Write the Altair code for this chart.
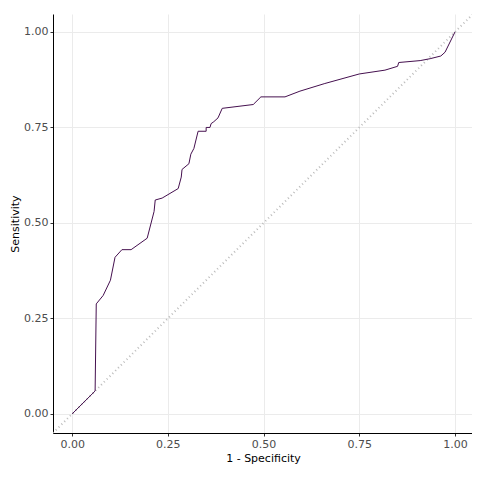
import altair as alt
import pandas as pd

fpr = [0, 0.06, 0.063, 0.081, 0.1, 0.112, 0.13, 0.154, 0.196, 0.214, 0.217, 0.235, 0.277, 0.285, 0.287,
       0.305, 0.31, 0.318, 0.329, 0.35, 0.35, 0.36, 0.363, 0.37, 0.381, 0.392, 0.473, 0.493, 0.556,
       0.595, 0.66, 0.75, 0.817, 0.85, 0.853, 0.909, 0.935, 0.963, 0.974, 1.0]
tpr = [0, 0.06, 0.288, 0.31, 0.35, 0.41, 0.43, 0.43, 0.46, 0.53, 0.56, 0.565, 0.59, 0.62, 0.64,
       0.655, 0.68, 0.695, 0.74, 0.74, 0.75, 0.75, 0.76, 0.765, 0.775, 0.80, 0.81, 0.83, 0.83,
       0.845, 0.865, 0.89, 0.90, 0.91, 0.92, 0.925, 0.93, 0.937, 0.947, 1.0]
diag = [-0.05, 1.05]

df = pd.DataFrame({"x": fpr, "y": tpr, "o": list(range(len(fpr)))})
dd = pd.DataFrame({"x": diag, "y": diag})

ticks = [0, 0.25, 0.5, 0.75, 1.0]
xs = alt.Scale(domain=[-0.05, 1.047], nice=False, zero=False)
ys = alt.Scale(domain=[-0.05, 1.047], nice=False, zero=False)
ax = dict(values=ticks, format=".2f", grid=True, gridColor="#ebebeb", domainColor="black",
          tickColor="#333", tickSize=3, labelColor="#4d4d4d", labelFontSize=11,
          titleFontSize=11, titleFontWeight="normal", titleColor="black",
          labelFont="DejaVu Sans", titleFont="DejaVu Sans", titlePadding=3)

d = alt.Chart(dd).mark_line(color="#bbbbbb", strokeDash=[1, 3], clip=True).encode(
    x=alt.X("x:Q", scale=xs, axis=alt.Axis(title="1 - Specificity", **ax)),
    y=alt.Y("y:Q", scale=ys, axis=alt.Axis(title="Sensitivity", **ax)))
l = alt.Chart(df).mark_line(color="#45104f", strokeWidth=1).encode(
    x=alt.X("x:Q", scale=xs), y=alt.Y("y:Q", scale=ys), order="o:Q")

chart = (d + l).properties(width=420, height=419, autosize="none",
                           padding={"left": 45, "top": 6, "right": -1, "bottom": 31}
                           ).configure_view(stroke=None)
chart.save("out.html", embed_options={"renderer": "svg", "actions": False})
